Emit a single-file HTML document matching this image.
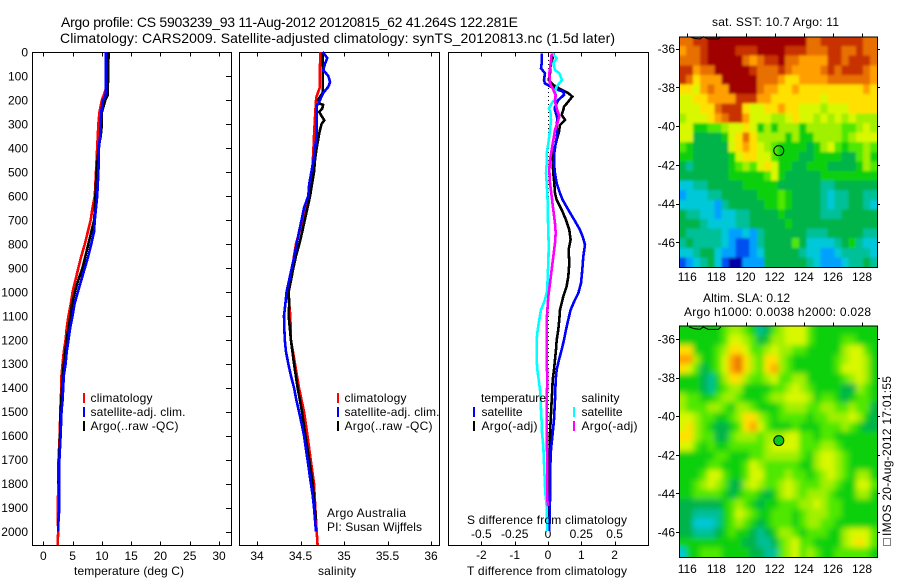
<!DOCTYPE html>
<html>
<head>
<meta charset="utf-8">
<title>Argo profile</title>
<style>
html,body{margin:0;padding:0;background:#fff;}
svg{display:block;}
text{font-family:"Liberation Sans",sans-serif;font-size:12px;fill:#000;}
.ttl{font-size:14px;}
</style>
</head>
<body>
<svg id="fig" xmlns="http://www.w3.org/2000/svg" width="900" height="580" viewBox="0 0 900 580">
<defs>
<filter id="blur-sst" filterUnits="userSpaceOnUse" x="640" y="0" width="260" height="580"><feGaussianBlur stdDeviation="1.3"/></filter>
<filter id="blur-sla" filterUnits="userSpaceOnUse" x="640" y="0" width="260" height="580"><feGaussianBlur stdDeviation="3"/></filter>
<clipPath id="clip-sst"><rect x="679" y="36.5" width="198" height="230.5"/></clipPath>
<clipPath id="clip-sla"><rect x="679" y="325.5" width="198" height="231.5"/></clipPath>
</defs>
<text class="ttl" x="61" y="27" textLength="457" lengthAdjust="spacing">Argo profile: CS 5903239_93 11-Aug-2012 20120815_62 41.264S 122.281E</text>
<text class="ttl" x="60" y="43" textLength="555" lengthAdjust="spacing">Climatology: CARS2009. Satellite-adjusted climatology: synTS_20120813.nc (1.5d later)</text>
<g id="panels"></g>
<g id="maps"></g>

<text x="74" y="575" textLength="110" lengthAdjust="spacing">temperature (deg C)</text>
<text x="318" y="575" textLength="38" lengthAdjust="spacing">salinity</text>
<text x="467" y="524" textLength="160" lengthAdjust="spacing">S difference from climatology</text>
<text x="467" y="575" textLength="160" lengthAdjust="spacing">T difference from climatology</text>

<g>
<rect x="83" y="393" width="2" height="10" fill="#ff0000"/>
<rect x="83" y="407" width="2" height="10" fill="#0000ff"/>
<rect x="83" y="421" width="2" height="10" fill="#000"/>
<text x="90.5" y="402" textLength="62" lengthAdjust="spacing">climatology</text>
<text x="90.5" y="416" textLength="95" lengthAdjust="spacing">satellite-adj. clim.</text>
<text x="90.5" y="430" textLength="88" lengthAdjust="spacing">Argo(..raw -QC)</text>
</g>
<g>
<rect x="337" y="393" width="2" height="10" fill="#ff0000"/>
<rect x="337" y="407" width="2" height="10" fill="#0000ff"/>
<rect x="337" y="421" width="2" height="10" fill="#000"/>
<text x="344.5" y="402" textLength="62" lengthAdjust="spacing">climatology</text>
<text x="344.5" y="416" textLength="95" lengthAdjust="spacing">satellite-adj. clim.</text>
<text x="344.5" y="430" textLength="88" lengthAdjust="spacing">Argo(..raw -QC)</text>
<text x="327" y="517" textLength="79" lengthAdjust="spacing">Argo Australia</text>
<text x="327" y="531" textLength="95" lengthAdjust="spacing">PI: Susan Wijffels</text>
</g>
<g>
<text x="481" y="402" textLength="65" lengthAdjust="spacing">temperature</text>
<text x="581.5" y="402" textLength="38" lengthAdjust="spacing">salinity</text>
<rect x="473" y="407" width="2" height="10" fill="#0000ff"/>
<rect x="473" y="421" width="2" height="10" fill="#000"/>
<rect x="573" y="407" width="2" height="10" fill="#00ffff"/>
<rect x="573" y="421" width="2" height="10" fill="#ff00ff"/>
<text x="481.5" y="416" textLength="41" lengthAdjust="spacing">satellite</text>
<text x="481.5" y="430" textLength="56" lengthAdjust="spacing">Argo(-adj)</text>
<text x="581.5" y="416" textLength="41" lengthAdjust="spacing">satellite</text>
<text x="581.5" y="430" textLength="56" lengthAdjust="spacing">Argo(-adj)</text>
</g>

<text x="712" y="26" textLength="127" lengthAdjust="spacing">sat. SST: 10.7 Argo: 11</text>
<text x="703" y="302" textLength="87" lengthAdjust="spacing">Altim. SLA: 0.12</text>
<text x="684" y="316" textLength="187" lengthAdjust="spacing">Argo h1000: 0.0038 h2000: 0.028</text>
<rect x="883.5" y="538.5" width="7" height="7" fill="none" stroke="#000" stroke-width="1" stroke-dasharray="1 1" shape-rendering="crispEdges"/>
<text transform="translate(891,536) rotate(-90)" textLength="160" lengthAdjust="spacing">IMOS 20-Aug-2012 17:01:55</text>
</svg>

<script>
// ---------- Profile data: shared x ticks and depth ticks ----------
const depthTicks = [0,100,200,300,400,500,600,700,800,900,1000,1100,1200,1300,1400,1500,1600,1700,1800,1900,2000];
const tempTicks = [0,5,10,15,20,25,30];
const salTicks = [34,34.5,35,35.5,36];
const tDiffTicks = [-2,-1,0,1,2];
const sDiffTicks = [-0.5,-0.25,0,0.25,0.5];
const sDiffTickLabels = ['-0.5','-0.25','0','0.25','0.5'];

// Temperature profiles
const tempClimDepth = [0,150,175,200,250,300,400,500,600,650,700,750,800,850,900,950,1000,1050,1100,1150,1200,1250,1300,1350,1400,1500,1600,1700,1800,1900,2000,2056];
const tempClim = [10.8,10.7,10.4,10,9.6,9.4,9.2,9,8.8,8.4,8.1,7.6,7.1,6.5,6,5.5,5,4.7,4.3,4,3.8,3.5,3.3,3.1,3.07,2.9,2.8,2.6,2.6,2.45,2.55,2.45];
const tempArgoDepth = [0,180,200,250,300,350,400,500,600,700,750,800,850,900,950,1000,1050,1100,1200,1300,1400,1500,1600,1700,1800];
const tempArgo = [11.15,11,10.6,10,10,9.8,9.45,9.1,8.9,8.7,8.2,7.7,7.2,6.7,6,5.4,4.9,4.65,4,3.5,3.2,2.95,2.85,2.7,2.6];
const tempSatDepth = [0,170,190,200,250,300,350,400,500,600,650,700,750,800,850,900,950,1000,1050,1100,1150,1200,1250,1300,1350,1400,1450,1500,1600,1700,1800,1900,1950,2000];
const tempSat = [10.7,10.7,10.5,10.2,9.9,9.8,9.7,9.5,9.4,9.2,9,8.8,8.65,8.2,7.7,7.1,6.5,5.9,5.35,5,4.6,4.3,4,3.8,3.5,3.4,3.3,3.1,2.95,2.75,2.75,2.75,2.6,2.55];

// Salinity profiles
const salClimDepth = [0,100,150,170,190,250,350,400,500,600,650,700,750,800,850,900,950,1000,1050,1100,1200,1300,1400,1500,1600,1700,1800,1900,2000,2056];
const salClim = [34.73,34.72,34.72,34.7,34.68,34.67,34.655,34.65,34.636,34.6,34.56,34.525,34.487,34.448,34.425,34.41,34.38,34.35,34.37,34.383,34.39,34.437,34.483,34.54,34.58,34.617,34.655,34.67,34.686,34.697];
const salArgoDepth = [0,170,200,215,220,235,250,270,285,300,325,350,400,450,500,600,650,700,750,800,850,900,1000,1050,1100,1200,1300,1400,1500,1600,1700,1800,1900,1950];
const salArgo = [34.755,34.755,34.7,34.72,34.76,34.75,34.716,34.747,34.774,34.743,34.724,34.71,34.686,34.667,34.655,34.61,34.58,34.55,34.52,34.487,34.448,34.418,34.364,34.37,34.364,34.39,34.425,34.467,34.517,34.556,34.6,34.64,34.663,34.678];
const salSatDepth = [0,25,50,75,100,125,145,170,200,225,250,300,350,400,450,500,550,600,650,700,750,800,850,900,950,1000,1050,1100,1150,1200,1250,1300,1350,1400,1450,1500,1550,1600,1700,1800,1850,1900,2000];
const salSat = [34.755,34.808,34.78,34.762,34.82,34.84,34.82,34.762,34.724,34.686,34.686,34.686,34.686,34.667,34.65,34.625,34.6,34.59,34.54,34.513,34.483,34.456,34.43,34.4,34.37,34.34,34.326,34.31,34.314,34.32,34.333,34.36,34.39,34.425,34.452,34.483,34.513,34.54,34.58,34.62,34.64,34.655,34.678];

// Difference profiles
const dTSatDepth = [6,47,68,89,117,131,151,165,179,200,228,242,276,311,339,381,422,464,506,547,589,617,658,700,742,769,804,853,908,964,1006,1033,1075,1116,1158,1200,1241,1283,1325,1366,1450,1533,1589,1658,1727,1866,1998];
const dTSat = [-.19,-.19,-.21,-.09,-.12,-.09,.16,.46,.48,.31,.21,.21,.28,.26,.28,.23,.19,.18,.21,.26,.36,.44,.61,.79,.96,1.04,1.11,1.06,1.03,.99,.91,.81,.68,.61,.54,.48,.41,.33,.26,.23,.21,.18,.14,.09,.07,.06,.04];
const dTArgoDepth = [6,26,47,89,117,138,158,172,186,207,228,242,262,283,304,332,367,422,464,506,547,589,617,658,700,742,783,825,881,936,978,1019,1075,1116,1158,1200,1241,1283,1325,1366,1408,1450,1533,1589,1658,1727,1866,1998];
const dTArgo = [.18,.14,.08,.06,.02,.16,.41,.61,.73,.61,.48,.46,.41,.51,.36,.33,.26,.16,.14,.16,.19,.21,.26,.41,.54,.64,.68,.62,.64,.61,.56,.46,.36,.34,.31,.26,.24,.21,.18,.14,.13,.11,.08,.06,.06,.06,.04,.01];
const dSSatDepth = [6,26,47,75,89,117,144,165,193,214,235,256,283,325,381,422,464,506,547,589,631,672,742,811,881,936,992,1033,1075,1116,1158,1200,1283,1325,1366,1408,1450,1491,1547,1589,1644,1714,1783,1839,1894,1998];
const dSSat = [.0275,.065,.04,.0525,.085,.105,.065,.0525,.0575,.0275,.0075,.02,.0225,.015,.0025,-.01,-.01,-.015,-.01,-.005,-.0025,-.0025,.0025,.005,.0025,-.0025,-.005,-.0225,-.0525,-.065,-.0775,-.085,-.085,-.08,-.07,-.06,-.055,-.0525,-.0475,-.045,-.035,-.03,-.025,-.02,-.01,-.005];
const dSArgoDepth = [6,47,89,131,158,179,207,235,269,297,325,367,408,450,492,547,603,658,714,756,797,853,908,964,1019,1116,1200,1283,1366,1450,1533,1616,1700,1783,1866,1894];
const dSArgo = [.0275,.02,.01,.015,.04,.0575,.0525,.065,.085,.07,.0525,.04,.0275,.015,.01,.015,.0275,.04,.0525,.0575,.0525,.04,.0275,.015,.0025,-.01,-.01,-.01,-.005,-.01,-.01,-.01,-.005,-.005,-.005,0];

// ---------- Map data ----------
const lonTicks = [116,118,120,122,124,126,128];
const latTicks = [-36,-38,-40,-42,-44,-46];
const floatLon = 122.281;
const floatLat = -41.264;
const coastLon = [116.14,116.5,116.87,117.1,117.44,118.13,118.3];
const coastLat = [-35.38,-35.47,-35.5,-35.38,-35.5,-35.5,-35.38];
const levelColors = ['#0000a8','#0050f0','#00a0ff','#00c8d8','#00c098','#00b448','#08d008','#50e800','#a0f000','#d8f800','#ffe000','#ffa000','#e87000','#c83000','#a00000'];
const sstLevels = [
[12,12,13,13,14,14,14,14,14,14,14,14,14,14,14,14,14,14,12,12,13,13,13,13,13,13,12,12],
[11,12,12,13,14,14,14,14,13,13,13,14,14,14,14,13,13,13,12,12,12,13,13,12,12,13,12,12],
[12,12,12,13,14,14,14,14,14,12,11,12,13,13,14,12,12,11,11,11,11,13,13,12,13,13,13,12],
[13,13,11,12,12,14,14,14,14,14,13,12,12,12,13,12,11,11,11,11,12,13,12,13,13,13,12,11],
[13,12,10,11,11,11,14,14,14,14,14,12,12,12,11,10,10,11,11,11,11,12,12,12,12,12,12,11],
[10,10,9,11,12,11,11,14,14,14,14,12,11,11,10,10,11,10,10,10,10,10,10,10,10,10,11,10],
[9,9,10,10,11,11,11,11,13,13,13,11,11,10,10,10,10,10,10,10,9,10,10,10,10,10,10,10],
[9,9,9,10,10,12,13,13,13,10,9,9,10,10,11,10,10,9,9,9,8,9,9,9,10,10,10,10],
[8,9,9,9,10,11,12,13,13,11,9,9,9,8,8,9,10,9,9,8,9,8,9,8,9,8,8,8],
[9,9,6,6,7,7,8,9,9,10,9,6,8,6,8,8,8,6,8,8,8,8,8,7,7,8,9,8],
[9,9,5,5,5,5,6,9,10,12,10,8,8,8,8,6,8,6,6,8,8,8,8,7,8,9,9,9],
[7,6,5,5,5,5,5,9,10,11,10,9,8,7,6,6,6,6,5,6,8,9,7,6,7,7,8,7],
[6,6,5,5,5,5,5,6,9,10,10,9,9,7,6,6,6,5,5,6,6,6,6,5,5,7,8,6],
[5,4,5,5,5,5,5,6,7,8,7,9,10,9,6,6,5,5,6,6,6,5,5,5,5,6,8,7],
[5,5,5,5,5,5,5,6,6,6,6,6,7,9,6,5,5,5,5,5,6,6,6,6,6,6,6,6],
[3,3,4,4,5,5,5,5,5,6,6,6,6,6,5,5,5,5,5,5,4,4,5,5,5,5,5,5],
[2,3,3,3,4,4,5,5,5,5,5,6,6,6,7,6,5,5,5,5,4,3,4,4,5,5,4,4],
[3,3,3,3,3,2,4,5,5,5,5,5,6,6,7,6,5,5,5,5,4,3,4,4,5,5,4,3],
[5,4,4,3,3,2,3,3,4,4,5,5,5,5,6,5,5,5,5,5,4,4,4,5,5,5,5,5],
[5,5,5,4,3,3,3,3,4,4,5,5,5,5,5,6,5,5,5,5,5,5,5,5,5,5,5,5],
[5,4,4,4,4,4,3,2,2,3,2,4,5,5,5,5,5,5,4,4,4,5,5,5,5,5,4,4],
[4,5,4,4,4,4,3,2,1,1,2,4,5,5,5,5,7,5,3,3,3,3,4,5,6,4,3,3],
[3,3,4,5,5,3,2,2,1,1,2,3,5,5,5,5,5,4,3,3,2,2,3,4,4,4,4,3],
[1,2,3,4,5,3,1,0,0,2,2,2,5,5,5,5,5,5,4,3,2,2,2,3,4,4,5,4]
];
const slaLevels = [
[6,6,6,6,6,6,7,8,8,7,6,4,5,7,8,9,9,9,7,6,6,6,6,6,6,6,6,6],
[6,6,6,6,6,6,7,9,9,8,7,5,6,8,8,9,9,9,7,6,6,6,6,7,7,6,6,6],
[10,10,6,6,6,7,8,10,10,9,7,7,8,9,8,8,7,7,6,6,6,6,6,8,9,9,7,6],
[11,11,8,6,6,7,9,11,12,10,8,7,10,10,8,7,6,6,6,6,6,6,7,8,9,9,8,6],
[10,9,7,5,6,7,9,11,12,10,8,7,10,11,8,7,6,6,6,6,6,6,7,9,9,9,8,6],
[6,6,6,5,4,6,8,10,10,8,7,7,8,9,7,7,8,8,6,6,6,6,6,7,8,9,8,6],
[6,6,6,5,4,6,7,8,8,6,6,6,6,7,7,8,9,8,7,6,6,6,6,5,5,8,7,6],
[8,7,7,6,6,7,8,8,7,6,6,6,7,8,8,9,9,9,8,6,7,7,6,5,6,7,7,6],
[8,7,7,7,8,8,7,6,8,8,7,6,6,6,7,8,8,8,7,7,8,8,7,7,8,7,7,5],
[9,9,8,7,7,6,6,7,8,10,10,8,7,6,7,7,7,7,6,7,7,8,8,8,9,8,6,5],
[9,10,8,7,6,5,5,6,7,10,11,9,7,6,6,6,7,6,6,6,7,7,7,8,7,6,5,5],
[10,10,8,7,7,5,5,7,8,8,8,7,8,8,8,9,9,7,7,6,7,7,6,6,6,6,6,6],
[9,9,7,6,7,6,6,7,7,7,7,7,8,9,9,9,9,7,7,7,8,8,7,6,6,6,6,6],
[6,6,6,6,6,7,7,6,6,6,7,7,8,8,8,8,8,7,6,8,9,9,8,7,6,6,6,6],
[6,6,6,6,7,7,6,6,6,7,9,8,7,7,7,7,7,6,6,8,9,9,8,7,6,6,6,6],
[6,6,6,7,9,9,7,6,6,7,9,9,7,7,7,8,7,7,6,7,8,9,8,7,6,8,8,6],
[6,6,7,8,9,8,7,5,5,8,9,8,7,7,8,9,8,7,7,7,8,8,7,6,6,9,9,7],
[6,6,7,7,7,7,6,5,6,7,7,6,5,6,8,9,8,7,8,8,8,7,6,6,6,8,8,6],
[5,5,5,5,5,5,6,7,8,7,6,5,6,6,7,7,7,8,8,9,8,7,7,6,6,6,6,6],
[5,5,4,4,4,4,6,7,9,8,7,6,6,7,7,7,6,7,8,8,8,7,7,6,6,6,6,6],
[5,5,3,3,3,4,6,7,8,7,6,5,6,7,7,7,6,7,8,8,7,7,6,6,6,6,6,6],
[5,5,4,4,4,5,6,7,6,6,5,4,5,6,8,8,7,6,7,7,7,6,6,8,9,9,9,7],
[6,6,6,6,6,6,6,6,6,5,5,4,4,5,7,8,9,7,7,6,6,6,6,8,9,10,9,7],
[3,6,6,7,7,7,6,6,6,6,5,5,4,4,7,8,9,7,8,7,6,6,7,7,7,7,7,6]
];

// ---------- Drawing ----------
const NS = 'http://www.w3.org/2000/svg';
const panelsG = document.getElementById('panels');
const mapsG = document.getElementById('maps');
function node(tag, parent, attrs){
  const el = document.createElementNS(NS, tag);
  for(const k in attrs){ el.setAttribute(k, attrs[k]); }
  parent.appendChild(el);
  return el;
}
const yDepth = d => 52 + d * 0.2398;
const xTemp = v => 43.3 + v * 5.857;
const xSal = v => 257 + (v - 34) * 87;
const xTDiff = v => 548 + v * 33.3;
const xSDiff = v => 548 + v * 133.2;

function frame(parent, name, x0, y0, x1, y1){
  const el = node('rect', parent, {x:x0, y:y0, width:x1-x0, height:y1-y0, fill:'none', stroke:'#000', 'stroke-width':1, 'shape-rendering':'crispEdges'});
  
  
}
function tick(parent, x1, y1, x2, y2){
  const el = node('line', parent, {x1:x1, y1:y1, x2:x2, y2:y2, stroke:'#000', 'stroke-width':1, 'shape-rendering':'crispEdges'});
  
  
}
function label(parent, x, y, str, anchor){
  const el = node('text', parent, {x:x, y:y, 'text-anchor':anchor});
  el.textContent = str;
  
  
}
function series(parent, name, depths, values, xf, color, width){
  const pts = depths.map((d,i) => xf(values[i]).toFixed(1) + ',' + yDepth(d).toFixed(1)).join(' ');
  const el = node('polyline', parent, {points:pts, fill:'none', stroke:color, 'stroke-width':width, 'shape-rendering':'crispEdges', 'stroke-linejoin':'miter'});
  
  
}

const topY = 52.5, botY = 545.5;
const lineW = 2.6;

// Temperature panel
frame(panelsG, 'temperature-panel-frame', 32.5, topY, 231.5, botY);
depthTicks.forEach(d => {
  const y = Math.round(yDepth(d)) + .5;
  tick(panelsG, 226, y, 231, y);
  label(panelsG, 28, yDepth(d) + 4.5, String(d), 'end');
});
tempTicks.forEach(v => {
  const x = Math.round(xTemp(v)) + .5;
  tick(panelsG, x, topY, x, topY + 4);
  tick(panelsG, x, botY, x, botY - 4);
  label(panelsG, xTemp(v), 560, String(v), 'middle');
});
series(panelsG, 'temperature-climatology-line', tempClimDepth, tempClim, xTemp, '#ff0000', lineW);
series(panelsG, 'temperature-argo-line', tempArgoDepth, tempArgo, xTemp, '#000000', lineW);
series(panelsG, 'temperature-satellite-line', tempSatDepth, tempSat, xTemp, '#0000ff', lineW);

// Salinity panel
frame(panelsG, 'salinity-panel-frame', 239.5, topY, 439.5, botY);
salTicks.forEach(v => {
  const x = Math.round(xSal(v)) + .5;
  tick(panelsG, x, topY, x, topY + 4);
  tick(panelsG, x, botY, x, botY - 4);
  label(panelsG, xSal(v), 560, String(v), 'middle');
});
series(panelsG, 'salinity-climatology-line', salClimDepth, salClim, xSal, '#ff0000', lineW);
series(panelsG, 'salinity-argo-line', salArgoDepth, salArgo, xSal, '#000000', lineW);
series(panelsG, 'salinity-satellite-line', salSatDepth, salSat, xSal, '#0000ff', lineW);

// Difference panel
frame(panelsG, 'difference-panel-frame', 448.5, topY, 648.5, botY);
tDiffTicks.forEach((v,i) => {
  const x = Math.round(xTDiff(v)) + .5;
  tick(panelsG, x, topY, x, topY + 4);
  tick(panelsG, x, botY, x, botY - 4);
  label(panelsG, xTDiff(v), 559, String(v), 'middle');
});
sDiffTicks.forEach((v,i) => {
  label(panelsG, xSDiff(v), 538, sDiffTickLabels[i], 'middle');
});
const zeroLine = node('line', panelsG, {x1:548.5, y1:52, x2:548.5, y2:532, stroke:'#000', 'stroke-width':1, 'stroke-dasharray':'1 3', 'shape-rendering':'crispEdges'});


series(panelsG, 'temperature-argo-difference-line', dTArgoDepth, dTArgo, xTDiff, '#000000', lineW);
series(panelsG, 'temperature-satellite-difference-line', dTSatDepth, dTSat, xTDiff, '#0000ff', lineW);
series(panelsG, 'salinity-satellite-difference-line', dSSatDepth, dSSat, xSDiff, '#00ffff', lineW);
series(panelsG, 'salinity-argo-difference-line', dSArgoDepth, dSArgo, xSDiff, '#ff00ff', lineW);

// Maps
function drawMap(name, levels, top, bottom, lat36, pxPerLat, lonLabelY, filledMarker, clipId, blurId){
  const g = node('g', mapsG, {});
  
  
  const left = 679, right = 877;
  const xLon = v => 687.3 + (v - 116) * 14.56;
  const yLat = v => lat36 + (-36 - v) * pxPerLat;
  const nRows = levels.length;
  const clipG = node('g', g, {'clip-path':'url(#' + clipId + ')'});
  
  
  const cellsG = node('g', clipG, {filter:'url(#' + blurId + ')'});
  
  
  const bleed = 12;
  levels.forEach((row, r) => {
    let y0 = top + (bottom - top) * r / nRows;
    let y1 = top + (bottom - top) * (r + 1) / nRows;
    if(r === 0){ y0 -= bleed; }
    if(r === nRows - 1){ y1 += bleed; }
    row.forEach((lev, c) => {
      let x0 = left + (right - left) * c / row.length;
      let x1 = left + (right - left) * (c + 1) / row.length;
      if(c === 0){ x0 -= bleed; }
      if(c === row.length - 1){ x1 += bleed; }
      const cell = node('rect', cellsG, {x:x0.toFixed(2), y:y0.toFixed(2), width:(x1-x0+0.4).toFixed(2), height:(y1-y0+0.4).toFixed(2), fill:levelColors[lev], 'shape-rendering':'crispEdges'});
      
      
    });
  });
  const coast = node('polyline', g, {points:coastLon.map((v,i) => xLon(v).toFixed(1) + ',' + yLat(coastLat[i]).toFixed(1)).join(' '), fill:'none', stroke:'#000', 'stroke-width':1});
  
  
  frame(g, name + '-frame', left + .5, top + .5, right + .5, bottom + .5);
  lonTicks.forEach(v => {
    const x = Math.round(xLon(v)) + .5;
    tick(g, x, top + .5, x, top - 3);
    label(g, xLon(v), lonLabelY, String(v), 'middle');
  });
  latTicks.forEach(v => {
    const y = Math.round(yLat(v)) + .5;
    tick(g, left, y, left - 3, y);
    tick(g, right, y, right + 3, y);
    label(g, 675, yLat(v) + 4.5, String(v), 'end');
  });
  const marker = node('circle', g, {cx:xLon(floatLon).toFixed(1), cy:yLat(floatLat).toFixed(1), r:5, fill:filledMarker, stroke:'#000', 'stroke-width':1});
  
  
}
drawMap('sst-map', sstLevels, 36.5, 267, 48.7, 19.36, 281, 'none', 'clip-sst', 'blur-sst');
drawMap('sla-map', slaLevels, 325.5, 557, 339, 19.3, 573, '#08c820', 'clip-sla', 'blur-sla');
</script>
</body>
</html>
